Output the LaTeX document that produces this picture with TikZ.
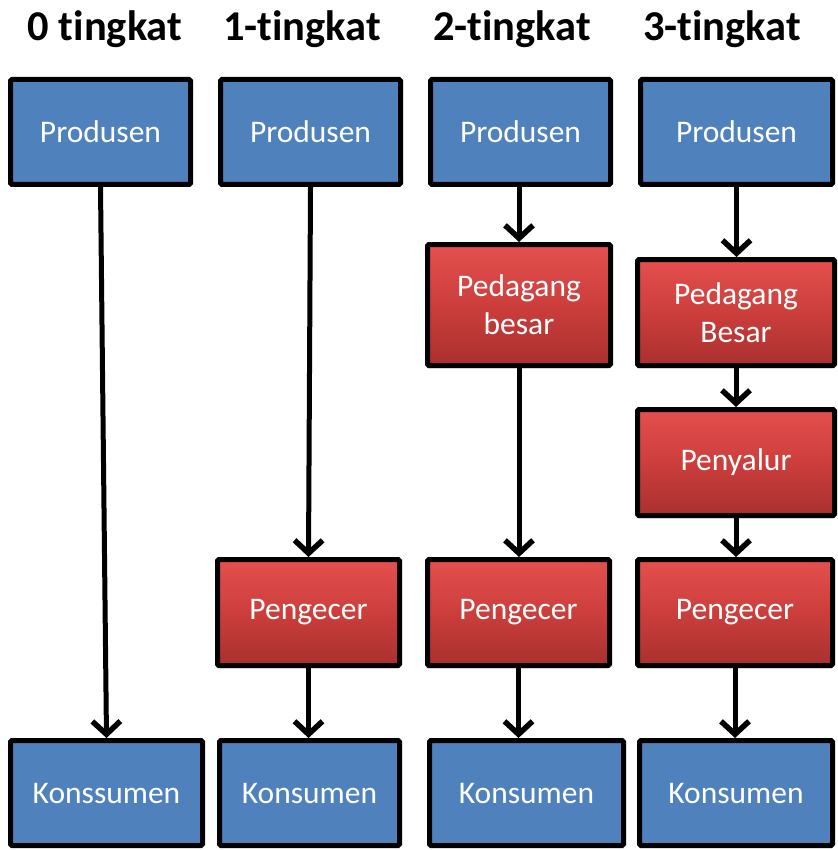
\documentclass[tikz,border=0pt]{standalone}
\usepackage{fontspec}
\setmainfont[Ligatures=NoCommon]{Carlito}
\usetikzlibrary{arrows.meta,shadows}
\definecolor{boxblue}{HTML}{4F81BD}
\definecolor{redtop}{HTML}{E4504E}
\definecolor{redmid}{HTML}{CC3E3C}
\definecolor{redbot}{HTML}{A9302E}
\tikzset{
  basebox/.style={draw=black, line width=5pt, rounded corners=1.5pt, inner sep=0pt,
    text=white, align=center, font=\fontsize{31.5}{38}\selectfont},
  bluebox/.style={basebox, fill=boxblue},
  redbox/.style={basebox, top color=redtop, bottom color=redbot, middle color=redmid,
    drop shadow={shadow xshift=-1.5pt, shadow yshift=-2.5pt, opacity=0.45, fill=black}},
  flow/.style={line width=5pt, -{Straight Barb[length=13pt,width=28pt,line width=5.5pt]}},
  header/.style={font=\fontsize{42.5}{46}\bfseries\selectfont, anchor=base}
}
\begin{document}
\begin{tikzpicture}[x=1pt,y=-1pt]
\useasboundingbox (0,0) rectangle (837,850);
% headers
\node[header] (h0) at (105,41) {0 tingkat};
\node[header] (h1) at (302,41) {1-tingkat};
\node[header] (h2) at (512,41) {2-tingkat};
\node[header] (h3) at (722,41) {3-tingkat};
% column 0
\node[bluebox, minimum width=180pt, minimum height=105pt] (p0) at (100.5,132) {Produsen};
\node[bluebox, minimum width=192pt, minimum height=105pt] (k0) at (106.5,793) {Konssumen};
% column 1
\node[bluebox, minimum width=180pt, minimum height=105pt] (p1) at (310.5,132) {Produsen};
\node[redbox, minimum width=182pt, minimum height=106pt] (e1) at (308.5,612.5) {Pengecer};
\node[bluebox, minimum width=180pt, minimum height=105pt] (k1) at (309.5,793) {Konsumen};
% column 2
\node[bluebox, minimum width=180pt, minimum height=105pt] (p2) at (520.5,132) {Produsen};
\node[redbox, minimum width=183pt, minimum height=121pt] (b2) at (519,305) {Pedagang\\besar};
\node[redbox, minimum width=182pt, minimum height=106pt] (e2) at (518.5,612.5) {Pengecer};
\node[bluebox, minimum width=194pt, minimum height=105pt] (k2) at (526.5,793) {Konsumen};
% column 3
\node[bluebox, minimum width=192pt, minimum height=105pt] (p3) at (736.5,132) {Produsen};
\node[redbox, minimum width=197pt, minimum height=106pt] (b3) at (736,312.5) {Pedagang\\Besar};
\node[redbox, minimum width=197pt, minimum height=106pt] (s3) at (736,462.5) {Penyalur};
\node[redbox, minimum width=195pt, minimum height=106pt] (e3) at (735,612.5) {Pengecer};
\node[bluebox, minimum width=193pt, minimum height=105pt] (k3) at (736,793) {Konsumen};
% arrows
\draw[flow] (p0.south) -- (k0.north);
\draw[flow] (p1.south) -- (e1.north);
\draw[flow] (e1.south) -- (k1.north -| e1.south);
\draw[flow] (p2.south -| b2.north) -- (b2.north);
\draw[flow] (b2.south) -- (e2.north -| b2.south);
\draw[flow] (e2.south) -- (k2.north -| e2.south);
\draw[flow] (p3.south) -- (b3.north -| p3.south);
\draw[flow] (b3.south) -- (s3.north);
\draw[flow] (s3.south) -- (e3.north -| s3.south);
\draw[flow] (e3.south) -- (k3.north -| e3.south);
\end{tikzpicture}
\end{document}
